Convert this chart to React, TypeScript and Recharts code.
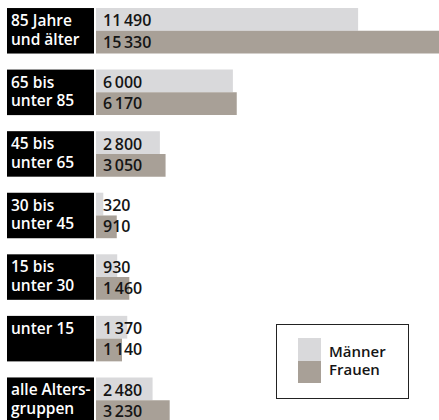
import { BarChart, Bar, XAxis, YAxis, Legend, LabelList } from 'recharts'

const categories = [
  '85 Jahre\nund älter',
  '65 bis\nunter 85',
  '45 bis\nunter 65',
  '30 bis\nunter 45',
  '15 bis\nunter 30',
  'unter 15',
  'alle Alters-\ngruppen',
]
const maenner = [11490, 6000, 2800, 320, 930, 1370, 2480]
const frauen = [15330, 6170, 3050, 910, 1460, 1140, 3230]
const seriesOrder = ['maenner', 'frauen']

const data = categories.map((group, i) => ({ group, maenner: maenner[i], frauen: frauen[i] }))

const FONT = '"Open Sans", "Noto Sans", sans-serif'
const BAR = 22.75
const GREY = '#d9d9db'
const TAUPE = '#a8a097'

// 11490 -> "11 490" with a thin space
const fmt = (v: number) => v.toLocaleString('de-DE').replace(/\./g, '\u2009')

function CategoryTick(props: any) {
  const { x, y, payload } = props
  const lines = String(payload.value).split('\n')
  const top = y - BAR
  return (
    <g>
      <rect x={x - 89} y={top} width={87} height={BAR * 2} fill="#000" />
      {lines.map((l, i) => (
        <text key={i} x={x - 85} y={top + 18 + i * 18.5} fill="#fff" fontSize={15.5} fontWeight={600} fontFamily={FONT}>
          {l}
        </text>
      ))}
    </g>
  )
}

const valueLabel = (dy: number) => (props: any) => {
  const { x, y, height, value } = props
  return (
    <text x={x + 7} y={y + height / 2 + dy} fill="#151515" fontSize={16} fontWeight={600} fontFamily={FONT}>
      {fmt(value)}
    </text>
  )
}

function LegendBox({ payload }: any) {
  const items = [...(payload || [])].sort(
    (a: any, b: any) => seriesOrder.indexOf(a.dataKey) - seriesOrder.indexOf(b.dataKey),
  )
  return (
    <div style={{ width: 131, height: 73, border: '1px solid #222', position: 'relative', fontFamily: FONT }}>
      {items.map((p: any, i: number) => (
        <div key={p.value} style={{ position: 'absolute', left: 21, top: 13 + i * 22.5, display: 'flex', alignItems: 'center' }}>
          <div style={{ width: 23, height: 22.5, background: p.color }} />
          <span style={{ marginLeft: 8, fontSize: 15, fontWeight: 600, color: '#151515', lineHeight: '18px', marginTop: i === 0 ? 3 : -5 }}>
            {p.value}
          </span>
        </div>
      ))}
    </div>
  )
}

export default function App() {
  return (
    <div style={{ position: 'absolute', left: 0, top: 0, width: 439, height: 420, overflow: 'hidden', background: '#fff' }}>
      <BarChart
        width={461}
        height={431}
        data={data}
        layout="vertical"
        margin={{ top: 0, right: 0, bottom: 0, left: 0 }}
        barGap={0}
      >
        <XAxis type="number" domain={[0, 16000]} hide />
        <YAxis
          type="category"
          dataKey="group"
          width={96}
          axisLine={false}
          tickLine={false}
          tickSize={0}
          tickMargin={0}
          interval={0}
          tick={CategoryTick}
        />
        <Legend
          verticalAlign="middle"
          align="center"
          layout="horizontal"
          wrapperStyle={{ left: 276, top: 324, width: 133, height: 75 }}
          content={LegendBox}
        />
        <Bar dataKey="maenner" name="Männer" fill={GREY} barSize={BAR} isAnimationActive={false}>
          <LabelList dataKey="maenner" content={valueLabel(7)} />
        </Bar>
        <Bar dataKey="frauen" name="Frauen" fill={TAUPE} barSize={BAR} isAnimationActive={false}>
          <LabelList dataKey="frauen" content={valueLabel(5.5)} />
        </Bar>
      </BarChart>
    </div>
  )
}
